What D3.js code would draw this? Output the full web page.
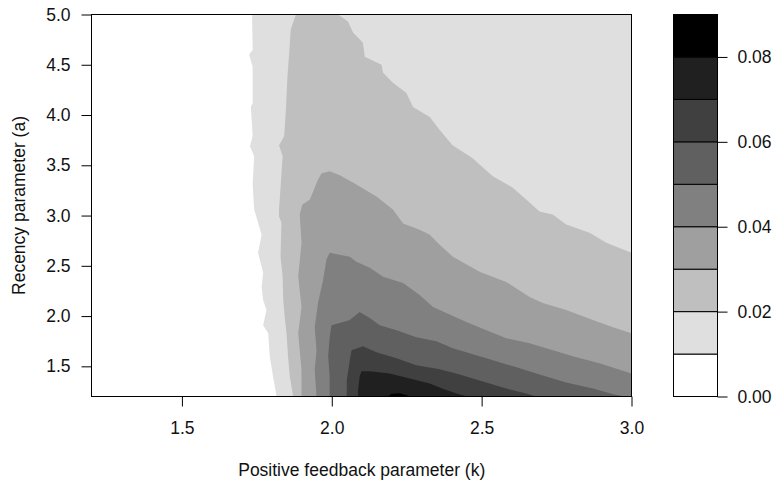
<!DOCTYPE html>
<html>
<head>
<meta charset="utf-8">
<script src="https://cdn.jsdelivr.net/npm/d3@7"></script>
<style>
  html, body { margin: 0; padding: 0; background: #ffffff; }
  svg { display: block; font-family: "Liberation Sans", Arial, sans-serif; }
  .tick text { font-size: 17.5px; fill: #111; }
</style>
</head>
<body>
<svg id="chart" width="774" height="485"></svg>
<script>
// Parameter ranges of the grid
const kDomain = [1.2, 3.0];
const aDomain = [1.2, 5.0];
const kTicks = [1.5, 2.0, 2.5, 3.0];
const aTicks = [1.5, 2.0, 2.5, 3.0, 3.5, 4.0, 4.5, 5.0];

// Contour levels and the fill of each band between them
const levels = [0, 0.01, 0.02, 0.03, 0.04, 0.05, 0.06, 0.07, 0.08, 0.09];
const legendTicks = [0, 0.02, 0.04, 0.06, 0.08];
const bandGrays = ["#ffffff", "#dfdfdf", "#bfbfbf", "#9f9f9f", "#808080",
                   "#606060", "#404040", "#202020", "#000000"];

// Iso-lines [k, a]: each one starts on the plot border and ends on it;
// the region at or above the level lies clockwise of the line.
const contour01 = [[1.816,1.2],[1.804,1.40],[1.793,1.60],[1.788,1.83],[1.771,1.91],[1.782,2.06],
  [1.771,2.16],[1.766,2.29],[1.771,2.43],[1.754,2.63],[1.766,2.81],[1.741,3.06],[1.736,3.32],
  [1.741,3.59],[1.727,3.69],[1.736,3.79],[1.730,4.08],[1.736,4.12],[1.736,4.48],[1.724,4.60],
  [1.736,4.65],[1.734,5.0]];
const contour02 = [[1.871,1.2],[1.860,1.40],[1.854,1.60],[1.849,1.83],[1.843,1.99],[1.838,2.16],
  [1.836,2.39],[1.829,2.59],[1.832,2.93],[1.824,2.99],[1.824,3.06],[1.830,3.32],[1.836,3.59],
  [1.824,3.70],[1.841,3.79],[1.847,4.05],[1.852,4.38],[1.858,4.62],[1.863,4.85],[1.880,5.0],
  [2.021,5.0],[2.054,4.93],[2.071,4.82],[2.104,4.72],[2.110,4.58],[2.166,4.50],[2.171,4.42],
  [2.204,4.32],[2.249,4.22],[2.271,4.08],[2.327,3.98],[2.360,3.85],[2.403,3.70],[2.470,3.57],
  [2.537,3.39],[2.603,3.28],[2.660,3.13],[2.693,3.04],[2.737,3.01],[2.782,2.91],[2.860,2.83],
  [2.916,2.73],[3.0,2.63]];
const contour03 = [[1.899,1.2],[1.899,1.46],[1.893,1.66],[1.888,1.83],[1.899,2.09],[1.888,2.39],
  [1.899,2.73],[1.893,3.01],[1.902,3.11],[1.927,3.16],[1.953,3.35],[1.966,3.42],[1.993,3.44],
  [2.027,3.40],[2.082,3.31],[2.149,3.19],[2.204,3.06],[2.238,2.92],[2.293,2.86],[2.327,2.81],
  [2.360,2.71],[2.404,2.59],[2.493,2.44],[2.582,2.34],[2.660,2.19],[2.704,2.13],[2.782,2.06],
  [2.871,1.96],[2.938,1.89],[3.0,1.83]];
const contour04 = [[1.949,1.2],[1.943,1.46],[1.949,1.66],[1.943,1.89],[1.954,2.13],[1.971,2.36],
  [1.982,2.56],[1.993,2.63],[2.060,2.59],[2.082,2.54],[2.127,2.48],[2.171,2.39],[2.238,2.33],
  [2.293,2.21],[2.338,2.09],[2.382,2.03],[2.449,1.94],[2.516,1.86],[2.582,1.78],[2.660,1.73],
  [2.738,1.66],[2.804,1.60],[2.893,1.53],[3.0,1.43]];
const contour05 = [[1.993,1.2],[1.993,1.40],[1.988,1.60],[1.993,1.79],[1.999,1.91],[2.038,1.94],
  [2.060,1.96],[2.093,2.04],[2.127,1.98],[2.160,1.91],[2.216,1.86],[2.282,1.79],[2.349,1.75],
  [2.404,1.68],[2.471,1.62],[2.538,1.56],[2.616,1.49],[2.693,1.42],[2.782,1.34],[2.871,1.28],
  [2.943,1.22],[2.977,1.2]];
const contour06 = [[2.050,1.2],[2.050,1.36],[2.060,1.56],[2.066,1.66],[2.104,1.70],[2.149,1.64],
  [2.216,1.58],[2.282,1.51],[2.360,1.47],[2.427,1.42],[2.504,1.35],[2.582,1.28],[2.649,1.23],
  [2.683,1.2]];
const contour07 = [[2.088,1.2],[2.088,1.27],[2.093,1.40],[2.099,1.45],[2.127,1.45],[2.193,1.43],
  [2.260,1.38],[2.327,1.33],[2.377,1.27],[2.427,1.22],[2.453,1.2]];
const contour08 = [[2.187,1.2],[2.200,1.227],[2.227,1.232],[2.250,1.212],[2.260,1.2]];

const isoLines = [contour01, contour02, contour03, contour04,
                  contour05, contour06, contour07, contour08];

const svg = d3.select("#chart");
const x = d3.scaleLinear().domain(kDomain).range([92, 631.5]);
const y = d3.scaleLinear().domain(aDomain).range([396.5, 14.5]);

// Close an iso-line by walking the plot border clockwise from its end to its start
function closeOnBorder(pts) {
  const W = kDomain[1] - kDomain[0], H = aDomain[1] - aDomain[0], P = 2 * (W + H);
  const eps = 1e-6;
  const pos = ([k, a]) => {
    if (a >= aDomain[1] - eps) return k - kDomain[0];
    if (k >= kDomain[1] - eps) return W + (aDomain[1] - a);
    if (a <= aDomain[0] + eps) return W + H + (kDomain[1] - k);
    return 2 * W + H + (a - aDomain[0]);
  };
  const corners = [
    { t: W, p: [kDomain[1], aDomain[1]] },
    { t: W + H, p: [kDomain[1], aDomain[0]] },
    { t: 2 * W + H, p: [kDomain[0], aDomain[0]] },
    { t: 0, p: [kDomain[0], aDomain[1]] }
  ];
  const tEnd = pos(pts[pts.length - 1]);
  const span = ((pos(pts[0]) - tEnd) % P + P) % P;
  const extra = corners
    .map(c => ({ dt: ((c.t - tEnd) % P + P) % P, p: c.p }))
    .filter(c => c.dt > eps && c.dt < span - eps)
    .sort((u, v) => u.dt - v.dt)
    .map(c => c.p);
  return pts.concat(extra);
}

const line = d3.line().x(d => x(d[0])).y(d => y(d[1]));

svg.append("clipPath").attr("id", "plotClip")
  .append("rect")
  .attr("x", x(kDomain[0])).attr("y", y(aDomain[1]))
  .attr("width", x(kDomain[1]) - x(kDomain[0]))
  .attr("height", y(aDomain[0]) - y(aDomain[1]));

const plot = svg.append("g").attr("clip-path", "url(#plotClip)");

// lowest band fills the whole panel
plot.append("rect")
  .attr("x", x(kDomain[0])).attr("y", y(aDomain[1]))
  .attr("width", x(kDomain[1]) - x(kDomain[0]))
  .attr("height", y(aDomain[0]) - y(aDomain[1]))
  .attr("fill", bandGrays[0]);

// each higher band painted over the previous one
plot.selectAll("path.band")
  .data(isoLines)
  .join("path")
  .attr("class", "band")
  .attr("d", d => line(closeOnBorder(d)) + "Z")
  .attr("fill", (d, i) => bandGrays[i + 1]);

// panel frame
svg.append("rect")
  .attr("x", Math.round(x(kDomain[0])) - 0.5).attr("y", y(aDomain[1]))
  .attr("width", x(kDomain[1]) - Math.round(x(kDomain[0])) + 0.5)
  .attr("height", y(aDomain[0]) - y(aDomain[1]))
  .attr("fill", "none").attr("stroke", "#000").attr("stroke-width", 1);

// axes
const xAxis = svg.append("g")
  .attr("transform", `translate(0,${y(aDomain[0])})`)
  .call(d3.axisBottom(x).tickValues(kTicks).tickSize(10).tickPadding(15)
        .tickFormat(d3.format(".1f")));
xAxis.select(".domain").remove();

const yAxis = svg.append("g")
  .attr("transform", `translate(${Math.round(x(kDomain[0])) - 0.5},0)`)
  .call(d3.axisLeft(y).tickValues(aTicks).tickSize(10).tickPadding(11)
        .tickFormat(d3.format(".1f")));
yAxis.select(".domain").remove();

svg.selectAll(".tick line").attr("stroke", "#000");

// axis titles
svg.append("text")
  .attr("x", (x(kDomain[0]) + x(kDomain[1])) / 2)
  .attr("y", 476)
  .attr("text-anchor", "middle")
  .attr("font-size", "17.5px").attr("fill", "#111")
  .text("Positive feedback parameter (k)");

svg.append("text")
  .attr("transform", `translate(25,${(y(aDomain[0]) + y(aDomain[1])) / 2}) rotate(-90)`)
  .attr("text-anchor", "middle")
  .attr("font-size", "17.5px").attr("fill", "#111")
  .text("Recency parameter (a)");

// colour key
const ly = d3.scaleLinear().domain([levels[0], levels[levels.length - 1]]).range([396.5, 14.5]);
const keyLeft = 673.5, keyRight = 717.5;
const key = svg.append("g");
key.selectAll("rect")
  .data(d3.pairs(levels))
  .join("rect")
  .attr("x", keyLeft)
  .attr("y", d => ly(d[1]))
  .attr("width", keyRight - keyLeft)
  .attr("height", d => ly(d[0]) - ly(d[1]))
  .attr("fill", (d, i) => bandGrays[i])
  .attr("stroke", "#000").attr("stroke-width", 1);

const keyAxis = svg.append("g")
  .attr("transform", `translate(${keyRight},0)`)
  .call(d3.axisRight(ly).tickValues(legendTicks).tickSize(10).tickPadding(10)
        .tickFormat(d3.format(".2f")));
keyAxis.select(".domain").remove();
keyAxis.selectAll(".tick line").attr("stroke", "#000");
</script>
</body>
</html>
